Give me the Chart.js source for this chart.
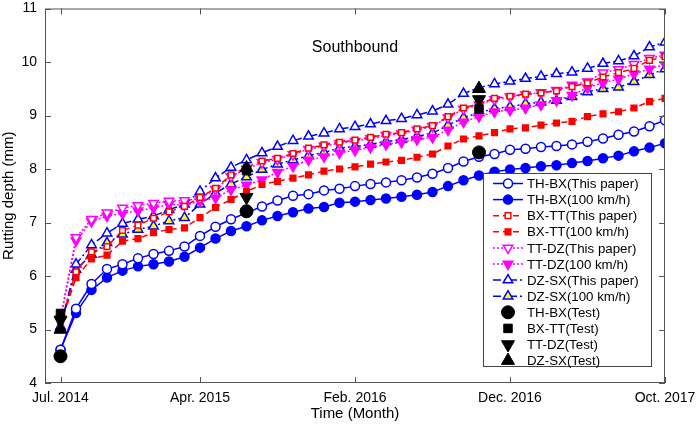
<!DOCTYPE html>
<html>
<head>
<meta charset="utf-8">
<script src="https://cdn.jsdelivr.net/npm/chart.js@4/dist/chart.umd.min.js"></script>
<style>
  html, body { margin: 0; padding: 0; background: #fff; }
  #wrap { width: 699px; height: 429px; }
</style>
</head>
<body>
<div id="wrap"><canvas id="rutting" width="699" height="429"></canvas></div>
<script>
// months counted from Jul. 2014 (0) to Oct. 2017 (39)
const tickMonths = [0, 9, 19, 29, 39];
const tickLabels = ['Jul. 2014', 'Apr. 2015', 'Feb. 2016', 'Dec. 2016', 'Oct. 2017'];

const thbxPaper = [4.62, 5.39, 5.85, 6.13, 6.22, 6.33, 6.41, 6.47, 6.55, 6.75, 6.92, 7.06, 7.18, 7.30, 7.41, 7.50, 7.53, 7.60, 7.63, 7.68,
                   7.72, 7.75, 7.79, 7.84, 7.91, 8.02, 8.14, 8.23, 8.28, 8.36, 8.38, 8.41, 8.43, 8.46, 8.51, 8.57, 8.64, 8.70, 8.80, 8.91];
const thbx100 = [4.62, 5.31, 5.74, 5.97, 6.10, 6.18, 6.22, 6.27, 6.36, 6.53, 6.70, 6.84, 6.93, 7.04, 7.12, 7.19, 7.26, 7.29, 7.37, 7.39,
                 7.42, 7.45, 7.48, 7.52, 7.57, 7.68, 7.79, 7.88, 7.95, 7.99, 8.02, 8.05, 8.07, 8.11, 8.15, 8.20, 8.25, 8.33, 8.40, 8.48];
const bxttPaper = [5.10, 6.08, 6.45, 6.55, 6.85, 6.95, 7.08, 7.20, 7.30, 7.47, 7.64, 7.89, 8.03, 8.15, 8.20, 8.29, 8.39, 8.45, 8.50, 8.54,
                   8.59, 8.65, 8.68, 8.75, 8.81, 8.98, 9.14, 9.22, 9.32, 9.36, 9.40, 9.42, 9.46, 9.54, 9.61, 9.72, 9.80, 9.88, 10.03, 10.10];
const bxtt100 = [5.10, 5.97, 6.32, 6.39, 6.65, 6.70, 6.81, 6.87, 6.90, 7.09, 7.28, 7.43, 7.58, 7.71, 7.77, 7.83, 7.89, 7.96, 8.00, 8.04,
                 8.09, 8.13, 8.16, 8.22, 8.28, 8.43, 8.56, 8.62, 8.68, 8.75, 8.77, 8.82, 8.86, 8.89, 8.98, 9.03, 9.07, 9.14, 9.26, 9.32];
const ttdzPaper = [5.20, 6.72, 7.06, 7.18, 7.27, 7.32, 7.36, 7.40, 7.41, 7.45, 7.62, 7.86, 8.00, 8.12, 8.18, 8.27, 8.37, 8.43, 8.48, 8.52,
                   8.57, 8.63, 8.66, 8.73, 8.80, 8.96, 9.12, 9.20, 9.30, 9.35, 9.39, 9.43, 9.47, 9.57, 9.63, 9.80, 9.86, 9.96, 10.07, 10.13];
const ttdz100 = [5.20, 6.66, 7.02, 7.12, 7.17, 7.22, 7.27, 7.34, 7.32, 7.40, 7.46, 7.61, 7.70, 7.80, 7.94, 8.05, 8.17, 8.23, 8.30, 8.35,
                 8.40, 8.46, 8.50, 8.55, 8.59, 8.73, 8.88, 8.98, 9.07, 9.10, 9.14, 9.20, 9.28, 9.38, 9.52, 9.61, 9.68, 9.78, 9.87, 9.95];
const dzsxPaper = [5.05, 6.22, 6.58, 6.80, 6.98, 7.06, 7.12, 7.24, 7.34, 7.58, 7.83, 8.03, 8.17, 8.30, 8.42, 8.53, 8.61, 8.67, 8.75, 8.79,
                   8.84, 8.90, 8.94, 9.01, 9.08, 9.21, 9.41, 9.52, 9.59, 9.64, 9.69, 9.73, 9.78, 9.81, 9.88, 9.97, 10.02, 10.11, 10.28, 10.37];
const dzsx100 = [5.05, 6.12, 6.40, 6.62, 6.78, 6.87, 6.93, 7.03, 7.09, 7.34, 7.55, 7.72, 7.85, 7.99, 8.09, 8.17, 8.25, 8.31, 8.39, 8.42,
                 8.46, 8.51, 8.55, 8.61, 8.67, 8.82, 8.96, 9.05, 9.13, 9.16, 9.22, 9.25, 9.28, 9.35, 9.44, 9.50, 9.53, 9.63, 9.76, 9.87];

const testMonths = [0, 12, 27];
const testTHBX = [4.50, 7.21, 8.31];
const testBXTT = [5.30, 7.97, 9.12];
const testTTDZ = [5.17, 7.47, 9.30];
const testDZSX = [5.00, 8.02, 9.50];

const BLUE = '#0000ff', RED = '#ff0000', MAGENTA = '#ff00ff', YELLOW = '#ffff00', BLACK = '#000000';
const FONT = '"Liberation Sans", Arial, sans-serif';

function toPoints(values, months) {
    return values.map((v, i) => ({x: months ? months[i] : i, y: v}));
}

function series(label, values, color, dash, style, fill, radius, rotation) {
    return {
        label: label,
        data: toPoints(values),
        borderColor: color,
        borderWidth: 1.5,
        borderDash: dash,
        pointStyle: style,
        pointRadius: radius,
        pointRotation: rotation || 0,
        pointBackgroundColor: fill,
        pointBorderColor: color,
        pointBorderWidth: 1.5,
        tension: 0,
        order: 1
    };
}

function testSeries(label, values, style, radius, rotation) {
    return {
        label: label,
        data: toPoints(values, testMonths),
        showLine: false,
        borderColor: BLACK,
        pointStyle: style,
        pointRadius: radius,
        pointRotation: rotation || 0,
        pointBackgroundColor: BLACK,
        pointBorderColor: BLACK,
        pointBorderWidth: 1,
        order: 0
    };
}

const DOT = [2, 2], DASH = [6, 4], DASHDOT = [8, 3, 2, 3];

const datasets = [
    series('TH-BX(This paper)', thbxPaper, BLUE, [], 'circle', '#ffffff', 4.5),
    series('TH-BX(100 km/h)', thbx100, BLUE, [], 'circle', BLUE, 4.5),
    series('BX-TT(This paper)', bxttPaper, RED, DASH, 'rect', '#ffffff', 4),
    series('BX-TT(100 km/h)', bxtt100, RED, DASH, 'rect', RED, 4),
    series('TT-DZ(This paper)', ttdzPaper, MAGENTA, DOT, 'triangle', '#ffffff', 5.5, 180),
    series('TT-DZ(100 km/h)', ttdz100, MAGENTA, DOT, 'triangle', MAGENTA, 5.5, 180),
    series('DZ-SX(This paper)', dzsxPaper, BLUE, DASHDOT, 'triangle', '#ffffff', 5.5),
    series('DZ-SX(100 km/h)', dzsx100, BLUE, DASHDOT, 'triangle', YELLOW, 5.5),
    testSeries('TH-BX(Test)', testTHBX, 'circle', 6.5),
    testSeries('BX-TT(Test)', testBXTT, 'rect', 6),
    testSeries('TT-DZ(Test)', testTTDZ, 'triangle', 7.5, 180),
    testSeries('DZ-SX(Test)', testDZSX, 'triangle', 7.5)
];

// box, inward ticks, title and the legend inside the plot
const framePlugin = {
    id: 'frame',
    afterDraw(chart) {
        const ctx = chart.ctx;
        const a = chart.chartArea;
        const xs = chart.scales.x, ys = chart.scales.y;
        ctx.save();
        ctx.strokeStyle = '#555';
        ctx.lineWidth = 1;
        ctx.strokeRect(a.left + 0.5, a.top + 0.5, a.right - a.left - 1, a.bottom - a.top - 1);
        ctx.beginPath();
        for (const m of tickMonths) {
            const px = Math.round(xs.getPixelForValue(m)) + 0.5;
            ctx.moveTo(px, a.bottom); ctx.lineTo(px, a.bottom - 6);
            ctx.moveTo(px, a.top); ctx.lineTo(px, a.top + 6);
        }
        for (let v = 4; v <= 11; v++) {
            const py = Math.round(ys.getPixelForValue(v)) + 0.5;
            ctx.moveTo(a.left, py); ctx.lineTo(a.left + 6, py);
            ctx.moveTo(a.right, py); ctx.lineTo(a.right - 6, py);
        }
        ctx.stroke();

        ctx.fillStyle = '#000';
        ctx.font = '16px ' + FONT;
        ctx.textAlign = 'center';
        ctx.textBaseline = 'middle';
        ctx.fillText('Southbound', (a.left + a.right) / 2, a.top + 39);

        // legend
        const bx = 483, by = 173, bw = 168, bh = 193, row = 16.1;
        ctx.fillStyle = '#fff';
        ctx.fillRect(bx, by, bw, bh);
        ctx.strokeStyle = '#444';
        ctx.strokeRect(bx + 0.5, by + 0.5, bw, bh);
        ctx.font = '13.3px ' + FONT;
        ctx.textAlign = 'left';
        chart.data.datasets.forEach((ds, i) => {
            const y = by + 10.5 + i * row;
            if (ds.showLine !== false) {
                ctx.beginPath();
                ctx.setLineDash(ds.borderDash);
                ctx.strokeStyle = ds.borderColor;
                ctx.lineWidth = 1.5;
                ctx.moveTo(bx + 10, y); ctx.lineTo(bx + 40, y);
                ctx.stroke();
                ctx.setLineDash([]);
            }
            ctx.fillStyle = ds.pointBackgroundColor;
            ctx.strokeStyle = ds.pointBorderColor;
            ctx.lineWidth = ds.pointBorderWidth;
            Chart.helpers.drawPoint(ctx, {
                pointStyle: ds.pointStyle,
                radius: ds.pointRadius,
                rotation: ds.pointRotation,
                borderWidth: ds.pointBorderWidth
            }, bx + 25, y);
            ctx.fillStyle = '#000';
            ctx.fillText(ds.label, bx + 44, y + 1);
        });
        ctx.restore();
    }
};

new Chart(document.getElementById('rutting'), {
    type: 'line',
    data: {datasets: datasets},
    plugins: [framePlugin],
    options: {
        responsive: false,
        animation: false,
        layout: {padding: {top: 6, right: 34, left: 0, bottom: 0}},
        plugins: {legend: {display: false}, tooltip: {enabled: false}},
        scales: {
            x: {
                type: 'linear',
                min: -1,
                max: 39,
                afterBuildTicks: (scale) => { scale.ticks = tickMonths.map(v => ({value: v})); },
                afterFit: (scale) => {
                    scale.height = 46;
                    scale.paddingLeft = 0;
                    scale.paddingRight = 0;
                },
                grid: {display: false, drawTicks: false, tickLength: 0},
                border: {display: false},
                ticks: {
                    autoSkip: false,
                    maxRotation: 0,
                    padding: 7,
                    color: '#000',
                    font: {family: FONT, size: 14},
                    callback: (v) => tickLabels[tickMonths.indexOf(v)]
                },
                title: {display: true, text: 'Time (Month)', color: '#000',
                        font: {family: FONT, size: 15}, padding: {top: 0, bottom: 6}}
            },
            y: {
                min: 4,
                max: 11,
                afterFit: (scale) => {
                    scale.width = 45;
                    scale.paddingTop = 0;
                    scale.paddingBottom = 0;
                },
                grid: {display: false, drawTicks: false, tickLength: 0},
                border: {display: false},
                ticks: {
                    stepSize: 1,
                    padding: 8,
                    color: '#000',
                    font: {family: FONT, size: 14}
                },
                title: {display: true, text: 'Rutting depth (mm)', color: '#000',
                        font: {family: FONT, size: 15}, padding: {top: 0, bottom: 2}}
            }
        }
    }
});
</script>
</body>
</html>
